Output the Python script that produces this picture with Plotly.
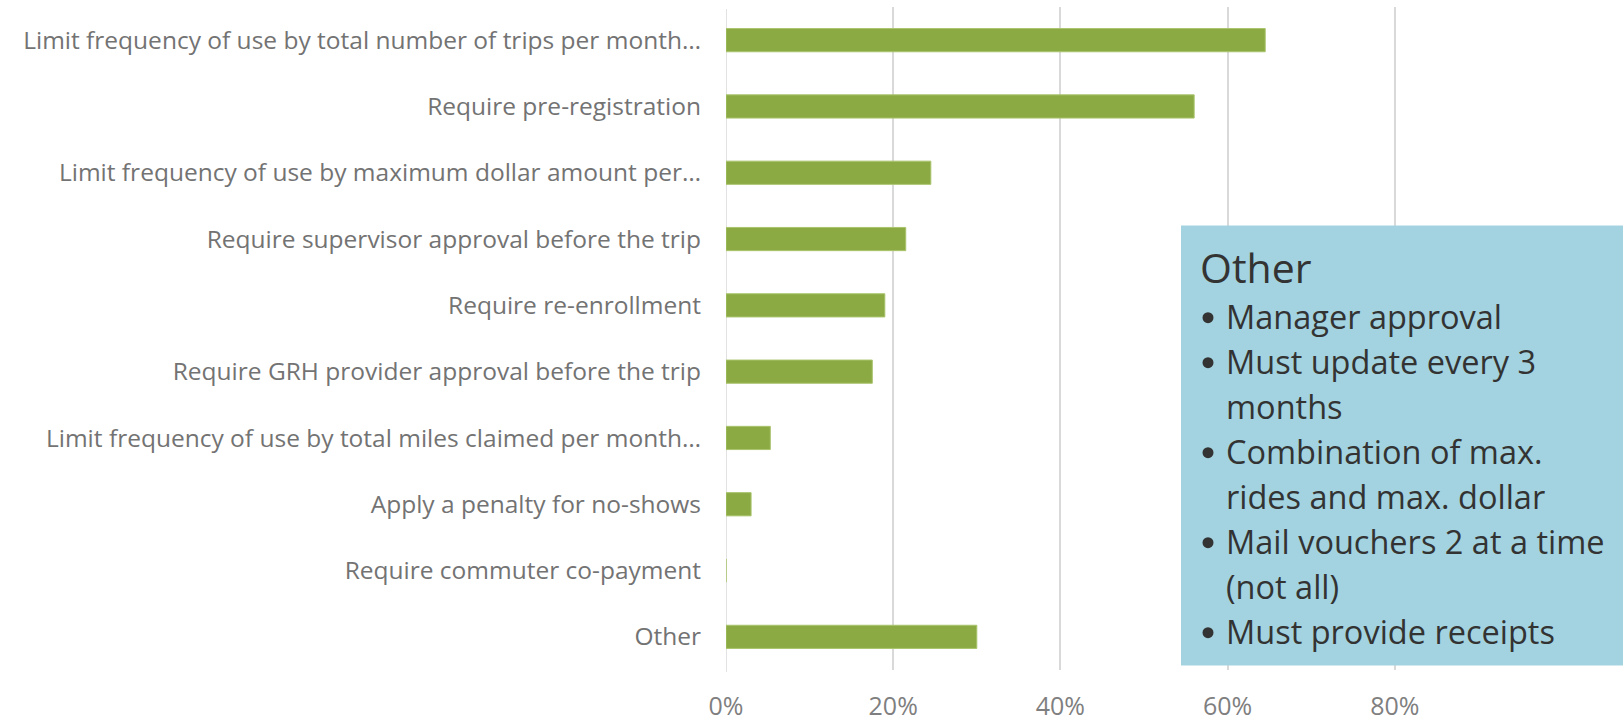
import plotly.graph_objects as go

categories = [
    "Limit frequency of use by total number of trips per month…",
    "Require pre-registration",
    "Limit frequency of use by maximum dollar amount per…",
    "Require supervisor approval before the trip",
    "Require re-enrollment",
    "Require GRH provider approval before the trip",
    "Limit frequency of use by total miles claimed per month…",
    "Apply a penalty for no-shows",
    "Require commuter co-payment",
    "Other",
]
values = [0.645, 0.56, 0.245, 0.215, 0.19, 0.175, 0.053, 0.03, 0.0, 0.30]
tick_vals = [0, 0.2, 0.4, 0.6, 0.8]
tick_text = ["0%", "20%", "40%", "60%", "80%"]

box_title = "Other"
box_items = [
    ["Manager approval"],
    ["Must update every 3", "months"],
    ["Combination of max.", "rides and max. dollar"],
    ["Mail vouchers 2 at a time", "(not all)"],
    ["Must provide receipts"],
]

W, H = 1623, 723
L, R, T, B = 726, 1562, 7, 670

def px(x):
    return (x - L) / (R - L)

def py(y):
    return (B - y) / (B - T)

fig = go.Figure(go.Bar(
    x=values, y=categories, orientation="h",
    marker=dict(color="#8BAA44", line=dict(color="#A9C46C", width=1)),
    width=0.35,
))

TXT = "#333333"
shapes = [dict(type="rect", xref="paper", yref="paper",
               x0=px(1181), x1=px(1640), y0=py(665.5), y1=py(225.5),
               fillcolor="#A3D3E0", line=dict(width=0), layer="above")]

ann = [dict(text=box_title, xref="paper", yref="paper", x=px(1198), y=py(267),
            xanchor="left", yanchor="middle", showarrow=False,
            font=dict(family="Open Sans", size=41, color=TXT))]
y = 316.7
for item in box_items:
    r = 5.5
    shapes.append(dict(type="circle", xref="paper", yref="paper",
                       x0=px(1208 - r), x1=px(1208 + r), y0=py(y + 1 + r), y1=py(y + 1 - r),
                       fillcolor=TXT, line=dict(width=0), layer="above"))
    for line in item:
        ann.append(dict(text=line, xref="paper", yref="paper", x=px(1224), y=py(y),
                        xanchor="left", yanchor="middle", showarrow=False,
                        font=dict(family="Open Sans", size=32.5, color=TXT)))
        y += 45

fig.update_layout(
    width=W, height=H, autosize=False,
    margin=dict(l=L, r=W - R, t=T, b=H - B, autoexpand=False),
    paper_bgcolor="white", plot_bgcolor="white",
    showlegend=False,
    shapes=shapes, annotations=ann,
    xaxis=dict(range=[0, 1], tickvals=tick_vals, ticktext=tick_text,
               showgrid=True, gridcolor="#D9D9D9", gridwidth=1.5,
               zeroline=False, showline=False, automargin=False,
               tickfont=dict(family="Open Sans", size=25, color="#7F7F7F"),
               ticklabelstandoff=19),
    yaxis=dict(autorange="reversed", showgrid=False, zeroline=False, showline=False,
               automargin=False,
               tickfont=dict(family="Open Sans", size=24.5, color="#737373"),
               ticklabelstandoff=24),
)
fig.add_shape(type="line", xref="x", yref="paper", x0=0, x1=0, y0=-0.003, y1=0.997,
              line=dict(color="#D9D9D9", width=1.5), layer="below")

fig.write_html("out.html",
               config={"displayModeBar": False, "responsive": False},
               post_script="document.body.style.margin='0';document.body.style.overflow='hidden';")
